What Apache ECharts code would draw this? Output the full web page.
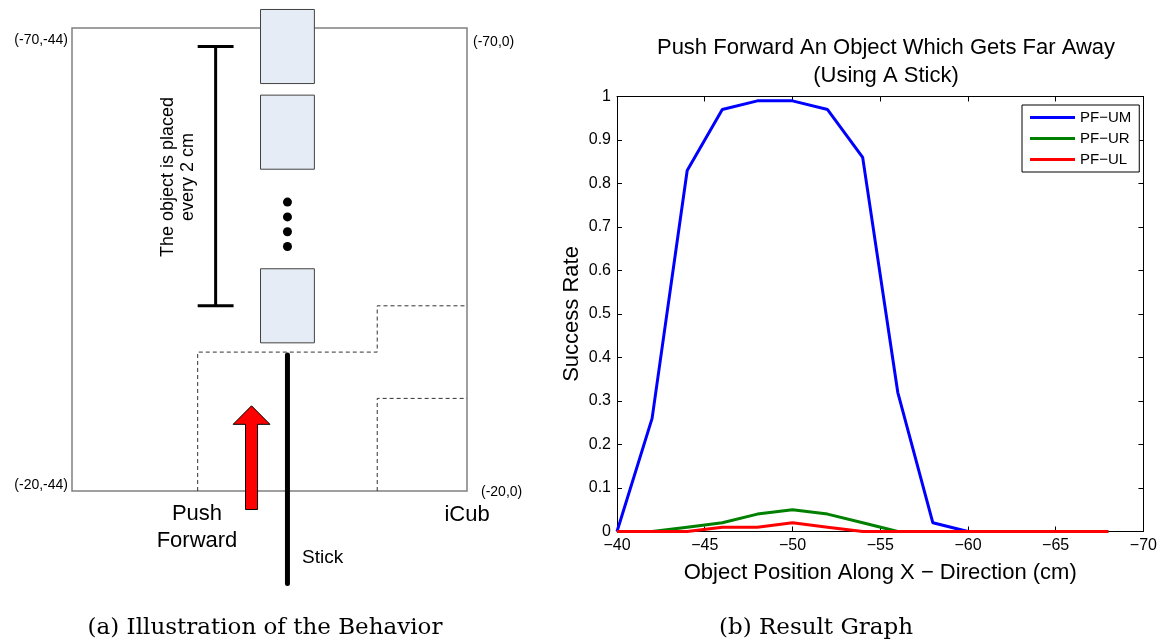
<!DOCTYPE html>
<html>
<head>
<meta charset="utf-8">
<script src="https://cdn.jsdelivr.net/npm/echarts@6/dist/echarts.min.js"></script>
<style>
  html, body { margin: 0; padding: 0; background: #fff; }
  #main { width: 1160px; height: 644px; }
</style>
</head>
<body>
<div id="main"></div>
<script>
// ---- Result graph: success rate against object position (cm) ----
const positions = [-40, -42, -44, -46, -48, -50, -52, -54, -56, -58, -60, -62, -64, -66, -68];
const pfUM = [0, 0.26, 0.83, 0.97, 0.99, 0.99, 0.97, 0.86, 0.32, 0.02, 0];
const pfUR = [0, 0, 0.01, 0.02, 0.04, 0.05, 0.04, 0.02, 0, 0, 0, 0, 0, 0, 0];
const pfUL = [0, 0, 0, 0.01, 0.01, 0.02, 0.01, 0, 0, 0, 0, 0, 0, 0, 0];
const seriesNames = ['PF\u2212UM', 'PF\u2212UR', 'PF\u2212UL'];

// ---- Behaviour sketch, in table coordinates (cm): X runs down, Y runs right ----
const cornerLabels = ['(-70,-44)', '(-70,0)', '(-20,-44)', '(-20,0)'];
const objectX = [-68, -58.75, -40];          // centres of the drawn object placements
const ellipsisX = [-51.2, -49.6, -48, -46.4];  // the "…" between placements
const spanX = [-68, -40];                      // range covered by the placements
const reachUM = [[-30, -20], [-30, -35], [-10, -35], [-10, -40], [0, -40]];
const reachUR = [[-10, -20], [-10, -30], [0, -30]];
const stickX = [-34.7, -10];
const pushX = [-18, -29.2];                    // arrow tail → tip

const FONT = 'Liberation Sans, Arial, Helvetica, sans-serif';
const SERIF = 'DejaVu Serif, serif';
const OBJ_Y = -20, OBJ_HALF_Y = 3, OBJ_HALF_X = 4;
const BRACKET_Y = -28, CAP = 2;
const ARROW_Y = -24, SHAFT = 0.67, HEAD = 2.05, HEAD_LEN = 2.0;

const minus = v => (v < 0 ? '\u2212' + Math.abs(v) : String(v));
const pairs = arr => arr.map((v, i) => [positions[i], v]);

const chart = echarts.init(document.getElementById('main'), null, { renderer: 'canvas' });

const boxAxis = {
  axisLine: { show: true, onZero: false, lineStyle: { color: '#000', width: 1 } },
  axisTick: { show: true, inside: true, length: 5, lineStyle: { color: '#000' } },
  splitLine: { show: false }
};

const option = {
  animation: false,
  backgroundColor: '#fff',
  title: {
    text: 'Push Forward An Object Which Gets Far Away\n(Using A Stick)',
    left: 881, top: 29, textAlign: 'center',
    textStyle: { fontFamily: FONT, fontSize: 22, fontWeight: 'normal', color: '#000', lineHeight: 28 }
  },
  legend: {
    data: seriesNames,
    left: 1022, top: 105,
    orient: 'vertical',
    icon: 'rect', itemWidth: 45, itemHeight: 3, itemGap: 4,
    padding: [4, 8, 4, 8],
    borderColor: '#000', borderWidth: 1, borderRadius: 0, backgroundColor: '#fff',
    textStyle: { fontFamily: FONT, fontSize: 15, color: '#000', lineHeight: 17 }
  },
  grid: [
    { left: 617, top: 96.5, width: 529, height: 435 },
    { left: 72, top: 28, width: 395, height: 463, show: true,
      borderColor: '#808080', borderWidth: 1.5, backgroundColor: 'transparent' }
  ],
  xAxis: [
    Object.assign({}, boxAxis, {
      gridIndex: 0, type: 'value', min: -70, max: -40, interval: 5, inverse: true, position: 'bottom',
      axisLabel: { color: '#000', fontFamily: FONT, fontSize: 16, margin: 6, formatter: minus },
      name: 'Object Position Along X \u2212 Direction (cm)', nameLocation: 'middle', nameGap: 30,
      nameTextStyle: { fontFamily: FONT, fontSize: 22, color: '#000' }
    }),
    Object.assign({}, boxAxis, {
      gridIndex: 0, type: 'value', min: -70, max: -40, interval: 5, inverse: true, position: 'top',
      axisLabel: { show: false }
    }),
    { gridIndex: 1, type: 'value', min: -44, max: 0, show: false }
  ],
  yAxis: [
    Object.assign({}, boxAxis, {
      gridIndex: 0, type: 'value', min: 0, max: 1, interval: 0.1, position: 'left',
      axisLabel: { color: '#000', fontFamily: FONT, fontSize: 16, margin: 6,
        formatter: v => String(+v.toFixed(1)) },
      name: 'Success Rate', nameLocation: 'middle', nameRotate: 90, nameGap: 34,
      nameTextStyle: { fontFamily: FONT, fontSize: 22, color: '#000' }
    }),
    Object.assign({}, boxAxis, {
      gridIndex: 0, type: 'value', min: 0, max: 1, interval: 0.1, position: 'right',
      axisLabel: { show: false }
    }),
    { gridIndex: 1, type: 'value', min: -70, max: -20, inverse: true, show: false }
  ],
  series: [
    // result curves
    { name: seriesNames[0], type: 'line', xAxisIndex: 0, yAxisIndex: 0, data: pairs(pfUM),
      symbol: 'none', lineStyle: { width: 3, color: '#0000ff' }, itemStyle: { color: '#0000ff' }, z: 3 },
    { name: seriesNames[1], type: 'line', xAxisIndex: 0, yAxisIndex: 0, data: pairs(pfUR),
      symbol: 'none', lineStyle: { width: 3, color: '#008000' }, itemStyle: { color: '#008000' }, z: 4 },
    { name: seriesNames[2], type: 'line', xAxisIndex: 0, yAxisIndex: 0, data: pairs(pfUL),
      symbol: 'none', lineStyle: { width: 3, color: '#ff0000' }, itemStyle: { color: '#ff0000' }, z: 5 },

    // sketch: reachable regions (dashed)
    { type: 'line', xAxisIndex: 2, yAxisIndex: 2, data: reachUM, symbol: 'none', clip: false, silent: true,
      lineStyle: { type: [4, 3], width: 1, color: '#333' } },
    { type: 'line', xAxisIndex: 2, yAxisIndex: 2, data: reachUR, symbol: 'none', clip: false, silent: true,
      lineStyle: { type: [4, 3], width: 1, color: '#333' } },

    // sketch: object placements
    { type: 'custom', xAxisIndex: 2, yAxisIndex: 2, clip: false, silent: true,
      data: objectX.map(x => [OBJ_Y, x]),
      renderItem: (p, api) => {
        const a = api.coord([api.value(0) - OBJ_HALF_Y, api.value(1) - OBJ_HALF_X]);
        const b = api.coord([api.value(0) + OBJ_HALF_Y, api.value(1) + OBJ_HALF_X]);
        return { type: 'rect',
          shape: { x: Math.min(a[0], b[0]), y: Math.min(a[1], b[1]),
                   width: Math.abs(b[0] - a[0]), height: Math.abs(b[1] - a[1]) },
          style: { fill: '#e6ecf6', stroke: '#404040', lineWidth: 1 } };
      } },

    // sketch: ellipsis dots
    { type: 'scatter', xAxisIndex: 2, yAxisIndex: 2, silent: true, clip: false,
      data: ellipsisX.map(x => [OBJ_Y, x]), symbolSize: 9, itemStyle: { color: '#000', opacity: 1 } },

    // sketch: span bracket
    { type: 'custom', xAxisIndex: 2, yAxisIndex: 2, clip: false, silent: true,
      data: [[BRACKET_Y, spanX[0], spanX[1]]],
      renderItem: (p, api) => {
        const y = api.value(0), x0 = api.value(1), x1 = api.value(2);
        const seg = (u, v) => {
          const s = api.coord(u), e = api.coord(v);
          return { type: 'line', shape: { x1: s[0], y1: s[1], x2: e[0], y2: e[1] },
                   style: { stroke: '#000', lineWidth: 3 } };
        };
        return { type: 'group', children: [
          seg([y, x0], [y, x1]),
          seg([y - CAP, x0], [y + CAP, x0]),
          seg([y - CAP, x1], [y + CAP, x1])
        ] };
      } },

    // sketch: push arrow
    { type: 'custom', xAxisIndex: 2, yAxisIndex: 2, clip: false, silent: true,
      data: [[ARROW_Y, pushX[0], pushX[1]]],
      renderItem: (p, api) => {
        const y = api.value(0), tail = api.value(1), tip = api.value(2);
        const base = tip + HEAD_LEN;
        const pts = [
          [y - SHAFT, tail], [y - SHAFT, base], [y - HEAD, base], [y, tip],
          [y + HEAD, base], [y + SHAFT, base], [y + SHAFT, tail]
        ].map(q => api.coord(q));
        return { type: 'polygon', shape: { points: pts },
                 style: { fill: '#ff0000', stroke: '#000', lineWidth: 1 } };
      } },

    // sketch: stick
    { type: 'line', xAxisIndex: 2, yAxisIndex: 2, clip: false, silent: true, symbol: 'none',
      data: stickX.map(x => [OBJ_Y, x]),
      lineStyle: { width: 5, color: '#000', cap: 'round' }, z: 6 }
  ],
  graphic: [
    { type: 'text', x: 68, y: 40, style: { text: cornerLabels[0], font: '14px ' + FONT, fill: '#000', align: 'right', verticalAlign: 'middle' } },
    { type: 'text', x: 473, y: 42, style: { text: cornerLabels[1], font: '14px ' + FONT, fill: '#000', align: 'left', verticalAlign: 'middle' } },
    { type: 'text', x: 68, y: 485, style: { text: cornerLabels[2], font: '14px ' + FONT, fill: '#000', align: 'right', verticalAlign: 'middle' } },
    { type: 'text', x: 481, y: 492, style: { text: cornerLabels[3], font: '14px ' + FONT, fill: '#000', align: 'left', verticalAlign: 'middle' } },
    { type: 'text', x: 178, y: 177, rotation: Math.PI / 2,
      style: { text: 'The object is placed\nevery 2 cm', font: '18px ' + FONT, lineHeight: 20,
               fill: '#000', align: 'center', verticalAlign: 'middle' } },
    { type: 'text', x: 197, y: 527, style: { text: 'Push\nForward', font: '22px ' + FONT, lineHeight: 27,
               fill: '#000', align: 'center', verticalAlign: 'middle' } },
    { type: 'text', x: 467, y: 515, style: { text: 'iCub', font: '22px ' + FONT, fill: '#000', align: 'center', verticalAlign: 'middle' } },
    { type: 'text', x: 302, y: 558, style: { text: 'Stick', font: '19px ' + FONT, fill: '#000', align: 'left', verticalAlign: 'middle' } },
    { type: 'text', x: 265, y: 628, style: { text: '(a) Illustration of the Behavior', font: '23px ' + SERIF, fill: '#000', align: 'center', verticalAlign: 'middle' } },
    { type: 'text', x: 816, y: 628, style: { text: '(b) Result Graph', font: '23px ' + SERIF, fill: '#000', align: 'center', verticalAlign: 'middle' } }
  ]
};

chart.setOption(option);
</script>
</body>
</html>
